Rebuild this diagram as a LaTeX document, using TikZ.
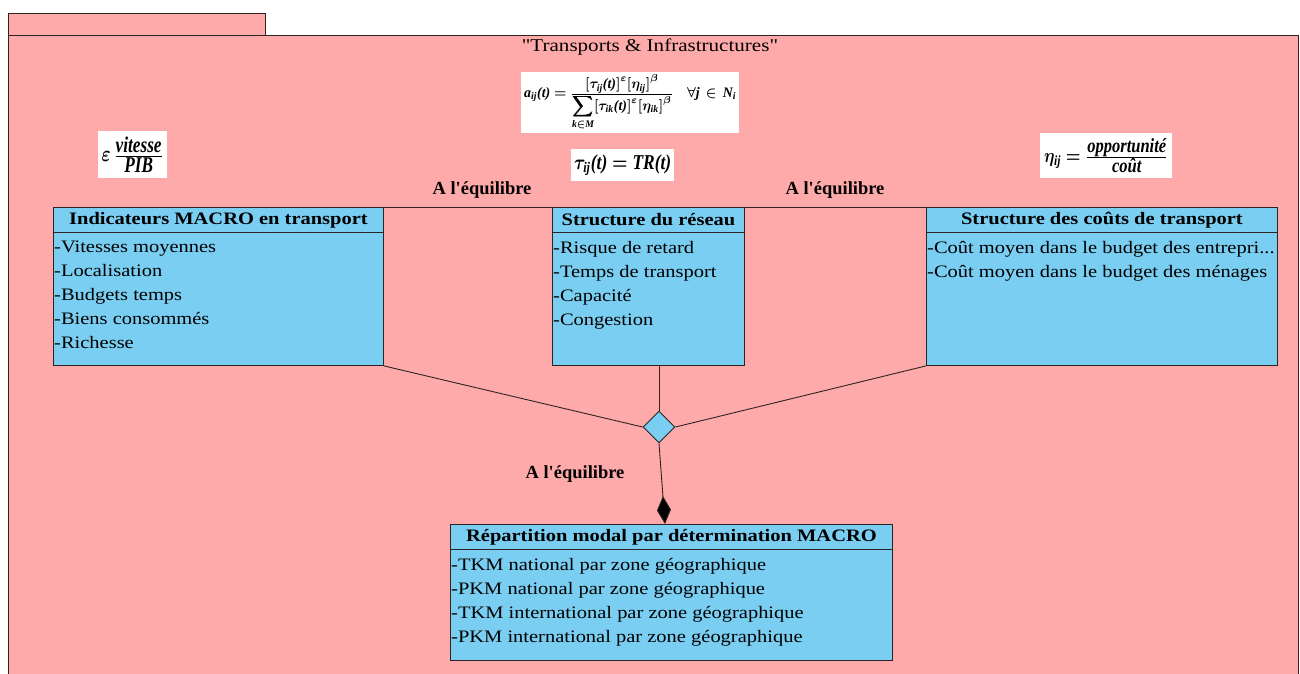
\documentclass[tikz,border=0pt]{standalone}
\usepackage{amsmath}
\usepackage{graphicx}
\usepackage{bm}
\usepackage{fontspec}
\setmainfont{Liberation Serif}[Ligatures=TeXOff]
\newfontfamily\umlfont{Liberation Serif}[Ligatures=TeXOff, FakeStretch=1.17]
\usetikzlibrary{shapes.geometric,arrows.meta,calc}
\definecolor{pkgpink}{RGB}{255,170,170}
\definecolor{clsblue}{RGB}{122,206,242}
\definecolor{edgegray}{RGB}{45,35,35}
% bold italic Latin letters inside formulas
\newcommand{\bi}[1]{\text{\bfseries\itshape #1}}
\newsavebox{\eqAllocBox}
\newsavebox{\eqVitBox}
\newsavebox{\eqOppBox}
\newsavebox{\eqTauBox}
\tikzset{
  pkg/.style={draw=edgegray, fill=pkgpink, line width=1pt, rectangle, anchor=north west, inner sep=0},
  cls/.style={draw=edgegray, fill=clsblue, line width=0.9pt, rectangle, anchor=north west, inner sep=0},
  sep/.style={draw=edgegray, line width=0.9pt},
  hdr/.style={font=\umlfont\bfseries\fontsize{17.5}{20}\selectfont, inner sep=0},
  items/.style={font=\umlfont\fontsize{17.5}{24}\selectfont, align=left, anchor=north west, inner sep=0},
  link/.style={draw=edgegray, line width=0.9pt},
  lbl/.style={font=\bfseries\fontsize{18.5}{20}\selectfont, inner sep=0},
  eqbox/.style={fill=white, inner sep=0, anchor=north west},
}
\begin{document}
\sbox{\eqAllocBox}{\resizebox*{212pt}{56pt}{%
  $\bi{a}_{\bi{ij}}\bi{(t)}\bm{=}\frac{\displaystyle\bm{[}\bm{\tau}_{\bi{ij}}\bi{(t)}\bm{]}^{\bm{\varepsilon}}\bm{[}\bm{\eta}_{\bi{ij}}\bm{]}^{\bm{\beta}}}
  {\displaystyle\bm{\sum_{\bi{k}\in \bi{M}}}\bm{[}\bm{\tau}_{\bi{ik}}\bi{(t)}\bm{]}^{\bm{\varepsilon}}\bm{[}\bm{\eta}_{\bi{ik}}\bm{]}^{\bm{\beta}}}
  \quad\bm{\forall}\bi{j}\,\bm{\in}\,\bi{N}_{\bi{i}}$}}
\sbox{\eqVitBox}{\resizebox*{62pt}{35pt}{%
  $\bm{\varepsilon}\,\frac{\displaystyle\bi{vitesse}}{\displaystyle\bi{PIB}}$}}
\sbox{\eqOppBox}{\resizebox*{124pt}{35pt}{%
  $\bm{\eta}_{\bi{ij}}\bm{=}\frac{\displaystyle\bi{opportunité}}{\displaystyle\bi{coût}}$}}
\sbox{\eqTauBox}{\resizebox*{97pt}{21pt}{%
  $\bm{\tau}_{\bi{ij}}\bi{(t)}\bm{=}\bi{TR(t)}$}}
\begin{tikzpicture}[x=1pt,y=-1pt]
\useasboundingbox (0,0) rectangle (1300,674);
% package frame with its tab
\node[pkg, minimum width=257, minimum height=22] (tab) at (8,13) {};
\node[pkg, minimum width=1290, minimum height=680] (pkgbody) at (8,35) {};
\node[font=\umlfont\fontsize{18}{20}\selectfont, inner sep=0] (title) at (650,47) {"Transports \& Infrastructures"};

% formulas
\node[eqbox, minimum width=218, minimum height=61] (fa) at (521,72) {\usebox{\eqAllocBox}};
\node[eqbox, minimum width=69, minimum height=47] (fv) at (98,131) {\usebox{\eqVitBox}};
\node[eqbox, minimum width=132, minimum height=45] (fo) at (1040,133) {\usebox{\eqOppBox}};
\node[eqbox, minimum width=103, minimum height=32] (ft) at (571,149) {\usebox{\eqTauBox}};

% classes
\node[cls, minimum width=330, minimum height=158] (macro) at (53,207) {};
\draw[sep] ($(macro.north west)+(0,25)$) -- ($(macro.north east)+(0,25)$);
\node[hdr] (macroh) at ($(macro.north)+(0,13)$) {Indicateurs MACRO en transport};
\node[items] (macroi) at ($(macro.north west)+(1,34)$)
  {-Vitesses moyennes\\-Localisation\\-Budgets temps\\-Biens consommés\\-Richesse};

\node[cls, minimum width=192, minimum height=158] (reseau) at (552,207) {};
\draw[sep] ($(reseau.north west)+(0,25)$) -- ($(reseau.north east)+(0,25)$);
\node[hdr] (reseauh) at ($(reseau.north)+(0,13)$) {Structure du réseau};
\node[items] (reseaui) at ($(reseau.north west)+(1,34)$)
  {-Risque de retard\\-Temps de transport\\-Capacité\\-Congestion};

\node[cls, minimum width=351, minimum height=158] (couts) at (926,207) {};
\draw[sep] ($(couts.north west)+(0,25)$) -- ($(couts.north east)+(0,25)$);
\node[hdr] (coutsh) at ($(couts.north)+(0,13)$) {Structure des coûts de transport};
\node[items] (coutsi) at ($(couts.north west)+(1,34)$)
  {-Coût moyen dans le budget des entrepri...\\-Coût moyen dans le budget des ménages};

\node[cls, minimum width=442, minimum height=136] (modal) at (450,524) {};
\draw[sep] ($(modal.north west)+(0,25)$) -- ($(modal.north east)+(0,25)$);
\node[hdr] (modalh) at ($(modal.north)+(0,13)$) {Répartition modal par détermination MACRO};
\node[items] (modali) at ($(modal.north west)+(1,34)$)
  {-TKM national par zone géographique\\-PKM national par zone géographique\\-TKM international par zone géographique\\-PKM international par zone géographique};

% n-ary association
\node[diamond, draw=edgegray, fill=clsblue, line width=0.9pt, minimum width=32, minimum height=32, inner sep=0] (agg) at (659,427) {};
\draw[link] (macro.south east) -- (agg.west);
\draw[link] (agg.north |- reseau.south) -- (agg.north);
\draw[link] (couts.south west) -- (agg.east);
\coordinate (tip) at ($(modal.north west)+(215,0)$);
\draw[link, -{Diamond[length=28pt,width=14pt,fill=black]}] (agg.south) -- (tip);
\node[lbl] (eq3) at (575,474) {A l'équilibre};

% associations between classes
\draw[link] (macro.north east) -- (reseau.north west);
\node[lbl] (eq1) at (482,190) {A l'équilibre};
\draw[link] (reseau.north east) -- (couts.north west);
\node[lbl] (eq2) at (835,190) {A l'équilibre};
\end{tikzpicture}
\end{document}
